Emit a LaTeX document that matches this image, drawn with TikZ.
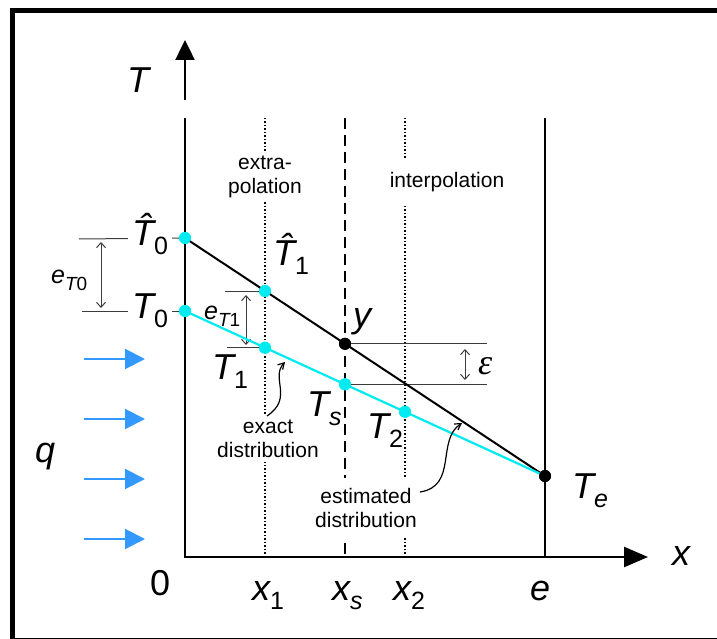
\documentclass[tikz,border=0pt]{standalone}
\usepackage{fontspec}
\setmainfont{Liberation Sans}
\newfontfamily\serifit{Liberation Serif}
\usetikzlibrary{arrows.meta}
\definecolor{cyanl}{RGB}{0,235,240}
\definecolor{qblue}{RGB}{51,153,255}
\definecolor{lvl}{RGB}{60,60,60}
\newcommand{\Tl}[2]{{\itshape #1}\raisebox{-9pt}{\fontsize{25}{25}\selectfont #2}}
\newcommand{\El}[1]{{\itshape e}\raisebox{-7pt}{\fontsize{19}{19}\selectfont{\itshape T}#1}}
\begin{document}
\begin{tikzpicture}[x=1pt,y=-1pt,
  lbl/.style={font=\fontsize{36}{40}\selectfont, anchor=base west, inner sep=4pt},
  elbl/.style={font=\fontsize{25}{27}\selectfont, anchor=base west, inner sep=4pt},
  small/.style={font=\fontsize{21}{24}\selectfont, align=center, fill=white, inner sep=4pt},
  cdot/.style={circle, fill=cyanl, minimum size=12pt, inner sep=0pt},
  bdot/.style={circle, fill=black, minimum size=12pt, inner sep=0pt},
  axisline/.style={line width=2.5pt},
  wall/.style={line width=2.5pt},
  dotline/.style={line width=1.5pt, dash pattern=on 1.5pt off 2pt},
  dashline/.style={line width=2.5pt, dash pattern=on 11pt off 6pt},
  lvlline/.style={lvl, line width=1pt},
  gaparrow/.style={lvl, line width=1pt, {Straight Barb[length=5pt,width=9pt]}-{Straight Barb[length=5pt,width=9pt]}},
  qarrow/.style={qblue, line width=2pt, -{Triangle[length=20pt,width=20pt]}},
  curly/.style={line width=1.2pt, -{Straight Barb[length=6pt,width=7pt]}},
]
\useasboundingbox (0,0) rectangle (717,639);
% frame
\draw[line width=5pt] (12,11) rectangle (740,640);

% coordinates
\coordinate (O) at (185,557);
\coordinate (ytop) at (185,118);
\coordinate (yarr0) at (185,100);
\coordinate (yarr1) at (185,40);
\coordinate (xend) at (648,557);
\coordinate (etop) at (545,118);
\coordinate (ebot) at (545,557);
\coordinate (x1top) at (265,118);
\coordinate (x1bot) at (265,557);
\coordinate (xstop) at (345,118);
\coordinate (xsbot) at (345,557);
\coordinate (x2top) at (405,118);
\coordinate (x2bot) at (405,557);

% axes
\draw[axisline, line join=miter, -{Triangle[length=24pt,width=20pt]}] (ytop) -- (O) -- (xend);
\draw[axisline, -{Triangle[length=20pt,width=19pt]}] (yarr0) -- (yarr1);
\draw[wall] (etop) -- (ebot);
\draw[dotline] (x1top) -- (x1bot);
\draw[dotline] (x2top) -- (x2bot);
\draw[dashline] (xstop) -- (xsbot);

% points
\node[cdot] (T0h) at (185,238) {};
\node[cdot] (T0) at (185,311) {};
\node[cdot] (T1h) at (265,291) {};
\node[cdot] (T1) at (265,347.7) {};
\node[bdot] (Y) at (345,343.8) {};
\node[cdot] (Ts) at (345,384.3) {};
\node[cdot] (T2) at (405,411.8) {};
\node[bdot] (Te) at (545,476) {};

% level lines
\coordinate (l0h) at (79,239);
\coordinate (l0) at (82,311);
\coordinate (l1h) at (225,291);
\coordinate (l1) at (227,347.7);
\coordinate (ly) at (487,343.8);
\coordinate (ls) at (487,384.3);
\draw[lvlline] (l0h) -- (T0h.center);
\draw[lvlline] (l0) -- (T0.center);
\draw[lvlline] (l1h) -- (T1h.center);
\draw[lvlline] (l1) -- (T1.center);
\draw[lvlline] (Y.center) -- (ly);
\draw[lvlline] (Ts.center) -- (ls);

% gap arrows
\coordinate (g0a) at (101,242);
\coordinate (g0b) at (101,308);
\coordinate (g1a) at (246,295);
\coordinate (g1b) at (246,345);
\coordinate (gea) at (465,349);
\coordinate (geb) at (465,380);
\draw[gaparrow] (g0a) -- (g0b);
\draw[gaparrow] (g1a) -- (g1b);
\draw[gaparrow] (gea) -- (geb);

% distributions
\draw[line width=2pt] (T0h.center) -- (Te.center);
\draw[cyanl, line width=2.2pt] (T0.center) -- (Te.center);
\node[cdot] at (T0h) {};
\node[cdot] at (T0) {};
\node[cdot] at (T1h) {};
\node[cdot] at (T1) {};
\node[bdot] at (Y) {};
\node[cdot] at (Ts) {};
\node[cdot] at (T2) {};
\node[bdot] at (Te) {};

% heat flux arrows
\coordinate (qa1) at (84,359); \coordinate (qb1) at (145,359);
\coordinate (qa2) at (84,419); \coordinate (qb2) at (145,419);
\coordinate (qa3) at (84,479); \coordinate (qb3) at (145,479);
\coordinate (qa4) at (84,539); \coordinate (qb4) at (145,539);
\draw[qarrow] (qa1) -- (qb1);
\draw[qarrow] (qa2) -- (qb2);
\draw[qarrow] (qa3) -- (qb3);
\draw[qarrow] (qa4) -- (qb4);

% text
\node[small] (extra) at (265,177) {extra-\\polation};
\node[small, inner ysep=14pt] (interp) at (447,182) {interpolation};
\node[small] (exact) at (268,439) {exact\\distribution};
\node[small, inner ysep=10pt] (estim) at (366,508) {estimated\\distribution};

% labels
\node[lbl] (lT) at (123,93) {\itshape T};
\node[lbl, fill=white] (lT0h) at (128,245) {\Tl{T̂}{0}};
\node[lbl, fill=white] (lT0) at (128,318) {\Tl{T}{0}};
\node[lbl] (lT1h) at (269,265) {\Tl{T̂}{1}};
\node[lbl] (lT1) at (208,379) {\Tl{T}{1}};
\node[lbl] (lTs) at (303,416) {\Tl{T}{\itshape s}};
\node[lbl] (lT2) at (363,438) {\Tl{T}{2}};
\node[lbl] (lTe) at (568,498) {\Tl{T}{\itshape e}};
\node[lbl] (ly) at (349,327) {\itshape y};
\node[lbl] (leps) at (474,374) {\serifit\itshape ε};
\node[lbl] (lx) at (668,565) {\itshape x};
\node[lbl] (l0) at (146,595) {0};
\node[lbl] (lx1) at (248,600) {\Tl{x}{1}};
\node[lbl] (lxs) at (328,600) {\Tl{x}{\itshape s}};
\node[lbl] (lx2) at (389,600) {\Tl{x}{2}};
\node[lbl] (le) at (526,600) {\itshape e};
\node[lbl] (lq) at (31,462) {\itshape q};
\node[elbl] (eT0) at (47,283) {\El{0}};
\node[elbl] (eT1) at (200,319) {\El{1}};

% pointer arrows
\coordinate (exA) at (267,416);
\coordinate (exB) at (285,362);
\coordinate (esA) at (420,492);
\coordinate (esB) at (462,423);
\draw[curly] (exA) .. controls (294,398) and (270,378) .. (exB);
\draw[curly] (esA) .. controls (458,486) and (436,440) .. (esB);
\end{tikzpicture}
\end{document}
